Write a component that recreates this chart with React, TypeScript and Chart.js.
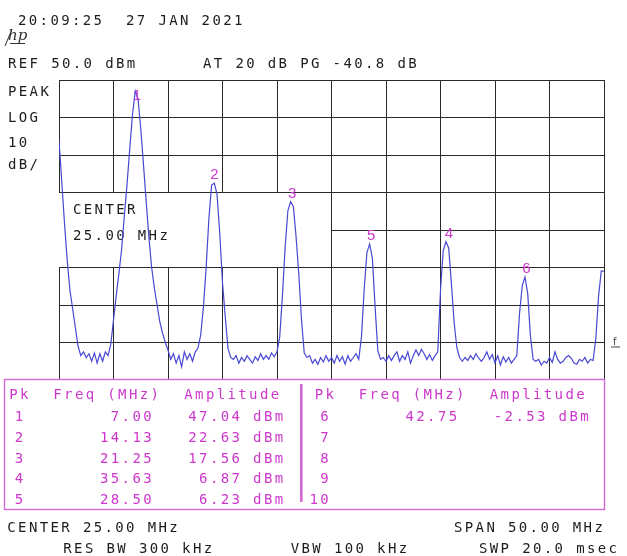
import React, { useEffect, useRef } from "react";
import { Chart, registerables } from "chart.js";

Chart.register(...registerables);

// ---------------- instrument settings ----------------
const CENTER_MHZ = 25;
const SPAN_MHZ = 50;
const REF_DBM = 50;
const DB_PER_DIV = 10;
const X_DIVS = 10;
const Y_DIVS = 8;
const SWEEP_STEP_MHZ = 0.25;

// ---------------- trace (dBm, one value per sweep step from 0 MHz) ----------------
const TRACE_DBM = [
  34, 23, 12, 2, -6, -11, -16, -21, -23.5, -22.5,
  -24, -23, -25, -22.8, -25.5, -23, -25, -22.5, -23.5, -20.5,
  -14, -7.5, -1.5, 5, 14, 22.5, 32, 41, 47.04, 45,
  37, 27.5, 17.5, 8, 0, -5.5, -10, -14.5, -17.5, -20,
  -22, -24.5, -23, -25.5, -23.5, -26.5, -22.5, -24.5, -23, -25,
  -22.5, -21.5, -18, -10.5, 0, 13, 22.0, 22.5, 19.5, 9,
  -4, -13, -21.5, -24, -24.5, -23.5, -25.5, -24, -25, -23.5,
  -24.5, -25.5, -23.8, -24.8, -23, -24.5, -23.5, -24.5, -22.8, -23.8,
  -22.5, -18.5, -7.5, 5.6, 15.2, 17.56, 16.3, 8.2, -1.8, -14,
  -22.8, -24, -23.5, -25.5, -24.5, -25.8, -24, -25.2, -23.5, -25,
  -24, -25.5, -23.5, -25, -23.8, -25.8, -23.5, -25, -24, -23,
  -24.5, -18.5, -5.8, 4, 6.23, 2.5, -10.5, -22.2, -24.5, -24,
  -25, -23.5, -24.8, -23.5, -22.5, -25, -23.5, -24.5, -22.5, -25.5,
  -23.5, -22, -23.5, -21.8, -23, -24.5, -23.2, -24.8, -23.5, -22.5,
  -6, 4.5, 6.87, 5.2, -4.3, -14.6, -21.4, -24, -25, -24,
  -24.8, -23.5, -24.5, -23, -24.2, -25, -24, -22.5, -24.5, -23.2,
  -25.5, -23.5, -26, -23.8, -25.2, -24, -25.5, -24.5, -23.5, -12.3,
  -4.8, -2.53, -6.9, -18.3, -24.5, -25, -24.5, -26, -25, -25.5,
  -24, -25.3, -22.5, -24.5, -25.5, -25, -24, -23.5, -24.2, -25.5,
  -25.8, -24.5, -25, -24, -25.5, -24.5, -24.8, -19, -7.7, -0.9,
  -1,
];

// ---------------- peak table ----------------
const PEAK_NO = [1, 2, 3, 4, 5, 6];
const PEAK_FREQ_MHZ = [7.0, 14.13, 21.25, 35.63, 28.5, 42.75];
const PEAK_AMP_DBM = [47.04, 22.63, 17.56, 6.87, 6.23, -2.53];
const LEFT_ROWS = [1, 2, 3, 4, 5];
const RIGHT_ROWS = [6, 7, 8, 9, 10];

// ---------------- annotation texts ----------------
const TIME_STAMP = "20:09:25  27 JAN 2021";
const REF_TEXT = "REF 50.0 dBm";
const ATTEN_TEXT = "AT 20 dB PG -40.8 dB";
const MODE_LINES = ["PEAK", "LOG", "10", "dB/"];
const CENTER_LINES = ["CENTER", "25.00 MHz"];
const FOOT_CENTER = "CENTER 25.00 MHz";
const FOOT_SPAN = "SPAN 50.00 MHz";
const FOOT_RBW = "RES BW 300 kHz";
const FOOT_VBW = "VBW 100 kHz";
const FOOT_SWP = "SWP 20.0 msec";
const TABLE_HEAD = ["Pk", "Freq (MHz)", "Amplitude"];

// ---------------- styles ----------------
const W = 627;
const H = 556;
const PITCH = 10.8;
const MONO = '14px "DejaVu Sans Mono", "Liberation Mono", monospace';
const INK = "#1c1c1c";
const GRID = "#2a2a2a";
const TRACE = "#4848d4";
const MAGENTA = "#cc38cc";
const MAGENTA_BORDER = "#d468d4";

function mono(ctx: CanvasRenderingContext2D, s: string, x: number, y: number, pitch = PITCH) {
  for (let i = 0; i < s.length; i++) {
    if (s[i] !== " ") ctx.fillText(s[i], x + i * pitch, y);
  }
}

const analyzerPlugin = {
  id: "analyzer",
  beforeDraw(chart: any) {
    const { ctx, chartArea: a, scales } = chart;
    const xs = scales.x;
    const ys = scales.y;
    const start = CENTER_MHZ - SPAN_MHZ / 2;
    ctx.save();
    ctx.fillStyle = "#fff";
    ctx.fillRect(0, 0, chart.width, chart.height);

    // graticule
    ctx.strokeStyle = GRID;
    ctx.lineWidth = 1;
    ctx.beginPath();
    for (let i = 0; i <= X_DIVS; i++) {
      const px = Math.floor(xs.getPixelForValue(start + (i * SPAN_MHZ) / X_DIVS)) + 0.5;
      ctx.moveTo(px, a.top);
      ctx.lineTo(px, a.bottom);
    }
    for (let j = 0; j < Y_DIVS; j++) {
      const py = Math.floor(ys.getPixelForValue(REF_DBM - j * DB_PER_DIV)) + 0.5;
      ctx.moveTo(a.left, py);
      ctx.lineTo(a.right + 1, py);
    }
    ctx.stroke();

    // blank annotation window (CENTER label)
    const bx0 = xs.getPixelForValue(start) - 2;
    const bx1 = Math.floor(xs.getPixelForValue(CENTER_MHZ));
    const by0 = Math.floor(ys.getPixelForValue(REF_DBM - 3 * DB_PER_DIV)) + 1;
    const by1 = Math.floor(ys.getPixelForValue(REF_DBM - 5 * DB_PER_DIV));
    ctx.fillStyle = "#fff";
    ctx.fillRect(bx0, by0, bx1 - bx0, by1 - by0);

    ctx.fillStyle = INK;
    ctx.font = MONO;
    ctx.textBaseline = "alphabetic";
    ctx.textAlign = "left";
    mono(ctx, CENTER_LINES[0], a.left + 14, by0 + 20.5);
    mono(ctx, CENTER_LINES[1], a.left + 14, by0 + 46.5);
    ctx.restore();
  },
  afterDatasetsDraw(chart: any) {
    const { ctx, chartArea: a, scales } = chart;
    ctx.save();
    ctx.fillStyle = MAGENTA;
    ctx.font = '15px "Liberation Sans", Arial, sans-serif';
    ctx.textAlign = "center";
    ctx.textBaseline = "alphabetic";
    for (let k = 0; k < PEAK_NO.length; k++) {
      const px = scales.x.getPixelForValue(PEAK_FREQ_MHZ[k]);
      const py = scales.y.getPixelForValue(PEAK_AMP_DBM[k]);
      const base = Math.max(py - 4, a.top + 20);
      ctx.fillText(String(PEAK_NO[k]), px + 1.5, base);
    }
    ctx.restore();
  },
  afterDraw(chart: any) {
    const { ctx, chartArea: a, scales } = chart;
    ctx.save();
    ctx.textAlign = "left";
    ctx.textBaseline = "alphabetic";
    ctx.font = MONO;
    ctx.fillStyle = INK;

    // header
    mono(ctx, TIME_STAMP, 18, 24.5);
    mono(ctx, REF_TEXT, 8, 67.5);
    mono(ctx, ATTEN_TEXT, 203, 67.5);
    const modeBase = [96, 121.5, 146.5, 168.5];
    MODE_LINES.forEach((t, i) => mono(ctx, t, 8, modeBase[i]));

    // hp logo
    ctx.save();
    ctx.font = 'italic 15px "DejaVu Serif", serif';
    ctx.fillStyle = "#333";
    ctx.fillText("hp", 8, 40);
    ctx.strokeStyle = "#333";
    ctx.lineWidth = 1;
    ctx.beginPath();
    ctx.moveTo(5, 46);
    ctx.lineTo(12, 29);
    ctx.moveTo(10, 43.5);
    ctx.lineTo(25, 43.5);
    ctx.stroke();
    ctx.restore();

    // threshold mark at right edge
    const ty = Math.floor(scales.y.getPixelForValue(REF_DBM - 7 * DB_PER_DIV)) + 0.5;
    ctx.save();
    ctx.font = '10px "DejaVu Sans", sans-serif';
    ctx.fillStyle = "#444";
    ctx.fillText("f", 613, ty + 2);
    ctx.strokeStyle = "#444";
    ctx.beginPath();
    ctx.moveTo(611, ty + 4.5);
    ctx.lineTo(620, ty + 4.5);
    ctx.stroke();
    ctx.restore();

    // marker table
    const tTop = a.bottom - 1;
    ctx.strokeStyle = MAGENTA_BORDER;
    ctx.lineWidth = 1.4;
    ctx.strokeRect(4.5, tTop + 0.5, 600, 130);
    ctx.fillStyle = MAGENTA_BORDER;
    ctx.fillRect(300, tTop + 5, 2.6, 118);

    ctx.fillStyle = MAGENTA;
    const OFF = 305.5;
    const head = tTop + 20;
    const rowBase = (r: number) => tTop + 42 + r * 20.8;
    [0, OFF].forEach((o) => {
      mono(ctx, TABLE_HEAD[0], 9.3 + o, head);
      mono(ctx, TABLE_HEAD[1], 53.3 + o, head);
      mono(ctx, TABLE_HEAD[2], 184.3 + o, head);
    });
    const drawRows = (rows: number[], o: number) => {
      rows.forEach((n, r) => {
        const y = rowBase(r);
        mono(ctx, String(n).padStart(2, " "), 4 + o, y);
        const k = PEAK_NO.indexOf(n);
        if (k >= 0) {
          mono(ctx, PEAK_FREQ_MHZ[k].toFixed(2).padStart(5, " "), 100 + o, y);
          mono(ctx, PEAK_AMP_DBM[k].toFixed(2).padStart(5, " ") + " dBm", 188.3 + o, y);
        }
      });
    };
    drawRows(LEFT_ROWS, 0);
    drawRows(RIGHT_ROWS, OFF);

    // footer
    ctx.fillStyle = INK;
    mono(ctx, FOOT_CENTER, 7.3, 531.5);
    mono(ctx, FOOT_SPAN, 454, 531.5);
    mono(ctx, FOOT_RBW, 63.3, 553);
    mono(ctx, FOOT_VBW, 290.7, 553);
    mono(ctx, FOOT_SWP, 479, 553);
    ctx.restore();
  },
};

export default function App() {
  const ref = useRef<HTMLCanvasElement | null>(null);
  useEffect(() => {
    if (!ref.current) return;
    const start = CENTER_MHZ - SPAN_MHZ / 2;
    const chart = new Chart(ref.current, {
      type: "line",
      data: {
        datasets: [
          {
            data: TRACE_DBM.map((v, i) => ({ x: start + i * SWEEP_STEP_MHZ, y: v })),
            borderColor: TRACE,
            borderWidth: 1.2,
            pointRadius: 0,
            tension: 0,
            fill: false,
          },
        ],
      },
      options: {
        animation: false,
        responsive: false,
        maintainAspectRatio: false,
        devicePixelRatio: 1,
        layout: { padding: { left: 59, right: 23, top: 80, bottom: 176 } },
        scales: {
          x: { type: "linear", min: start, max: start + SPAN_MHZ, display: false },
          y: { min: REF_DBM - Y_DIVS * DB_PER_DIV, max: REF_DBM, display: false },
        },
        plugins: { legend: { display: false }, tooltip: { enabled: false } },
      },
      plugins: [analyzerPlugin],
    } as any);
    return () => chart.destroy();
  }, []);
  return (
    <div style={{ position: "fixed", left: 0, top: 0, width: W, height: H, background: "#fff" }}>
      <canvas ref={ref} width={W} height={H} style={{ display: "block", width: W, height: H }} />
    </div>
  );
}
